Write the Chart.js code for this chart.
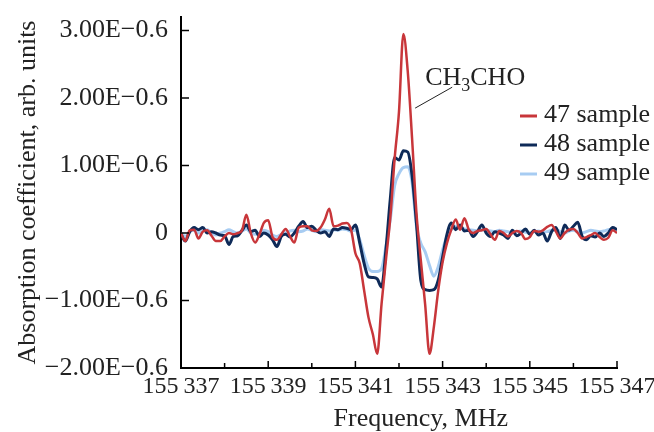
<!DOCTYPE html>
<html>
<head>
<meta charset="utf-8">
<script src="https://cdn.jsdelivr.net/npm/chart.js@4.4.1/dist/chart.umd.min.js"></script>
<style>
  html, body { margin: 0; padding: 0; background: #fff; }
  canvas { display: block; }
</style>
</head>
<body>
<canvas id="spectrumChart" width="654" height="432"></canvas>
<script>
// frequency grid, MHz
const frequency = [
  155337.0, 155337.1, 155337.2, 155337.3, 155337.4, 155337.5, 155337.6, 155337.7, 155337.8, 155337.9,
  155338.0, 155338.1, 155338.2, 155338.3, 155338.4, 155338.5, 155338.6, 155338.7, 155338.8, 155338.9,
  155339.0, 155339.1, 155339.2, 155339.3, 155339.4, 155339.5, 155339.6, 155339.7, 155339.8, 155339.9,
  155340.0, 155340.1, 155340.2, 155340.3, 155340.4, 155340.5, 155340.6, 155340.7, 155340.8, 155340.9,
  155341.0, 155341.1, 155341.2, 155341.3, 155341.4, 155341.5, 155341.6, 155341.7, 155341.8, 155341.9,
  155342.0, 155342.1, 155342.2, 155342.3, 155342.4, 155342.5, 155342.6, 155342.7, 155342.8, 155342.9,
  155343.0, 155343.1, 155343.2, 155343.3, 155343.4, 155343.5, 155343.6, 155343.7, 155343.8, 155343.9,
  155344.0, 155344.1, 155344.2, 155344.3, 155344.4, 155344.5, 155344.6, 155344.7, 155344.8, 155344.9,
  155345.0, 155345.1, 155345.2, 155345.3, 155345.4, 155345.5, 155345.6, 155345.7, 155345.8, 155345.9,
  155346.0, 155346.1, 155346.2, 155346.3, 155346.4, 155346.5, 155346.6, 155346.7, 155346.8, 155346.9,
  155347.0
];

// absorption, units of 1E-0.6
const sample47 = [
  0.0, -0.12, 0.04, 0.05, -0.08, 0.02, 0.04, -0.04, -0.12, -0.12,
  -0.05, 0.0, -0.02, 0.0, 0.04, 0.27, 0.0, -0.14, -0.02, 0.15,
  0.19, -0.06, -0.1, -0.02, 0.06, -0.05, -0.14, 0.08, 0.1, 0.1,
  0.04, 0.03, 0.08, 0.2, 0.36, 0.1, 0.11, 0.14, 0.15, 0.05,
  -0.3, -0.45, -0.85, -1.25, -1.5, -1.79, -1.05, -0.4, 0.22, 1.1,
  1.8, 2.95, 2.4, 1.4, 0.3, -0.4, -1.06, -1.79, -1.39, -0.85,
  -0.43, -0.15, 0.05, 0.2, 0.05, 0.22, 0.05, 0.0, 0.03, 0.04,
  0.06, -0.02, -0.1, 0.03, 0.0, -0.05, 0.0, 0.03, 0.0, -0.09,
  -0.06, 0.03, 0.02, 0.04, 0.09, 0.12, 0.02, -0.08, 0.0, 0.05,
  0.06, 0.0, -0.08, -0.06, -0.03, 0.0, -0.06, -0.1, -0.07, 0.04,
  0.0
];
const sample48 = [
  -0.02, -0.12, 0.02, 0.08, 0.05, 0.08, 0.0, 0.02, 0.0, -0.03,
  -0.04, -0.17, -0.05, -0.04, 0.04, 0.12, 0.02, 0.04, -0.05, 0.0,
  -0.03, -0.1, -0.2, -0.05, -0.02, -0.06, 0.0, 0.1, 0.17, 0.08,
  0.1, 0.04, 0.0, 0.02, -0.05, 0.06, 0.05, 0.08, 0.07, 0.05,
  0.12, -0.15, -0.45, -0.65, -0.66, -0.68, -0.8, -0.25, 0.5, 1.12,
  1.08, 1.22, 1.2, 0.85, 0.15, -0.7, -0.84, -0.85, -0.84, -0.7,
  -0.36, -0.02, 0.15, 0.05, 0.12, 0.03, 0.04, -0.05, 0.02, 0.12,
  0.0, -0.05, 0.02, 0.0, -0.03, -0.08, 0.04, -0.04, 0.0, 0.06,
  -0.02, 0.04, -0.03, 0.0, -0.12, 0.02, 0.08, -0.08, 0.12, 0.04,
  0.1, 0.16, -0.05, -0.1, -0.04, -0.06, 0.0, -0.05, 0.0, 0.08,
  0.05
];
const sample49 = [
  0.0, -0.05, 0.02, 0.04, 0.0, 0.03, 0.05, 0.0, -0.03, 0.0,
  0.02, 0.05, 0.02, 0.0, 0.03, 0.06, 0.0, -0.02, 0.0, 0.04,
  0.02, -0.03, -0.05, -0.02, 0.0, 0.03, 0.04, 0.02, 0.03, 0.06,
  0.04, 0.02, 0.05, 0.04, 0.03, 0.05, 0.04, 0.06, 0.05, 0.03,
  0.04, -0.1, -0.33, -0.52, -0.57, -0.57, -0.53, -0.2, 0.2, 0.7,
  0.88, 0.97, 0.98, 0.75, 0.1, -0.15, -0.28, -0.48, -0.64, -0.5,
  -0.25, -0.05, 0.05, 0.1, 0.08, 0.06, 0.05, 0.04, 0.03, 0.05,
  0.04, 0.03, 0.02, 0.04, 0.03, 0.02, 0.0, 0.02, 0.03, 0.01,
  0.0, 0.02, 0.03, 0.01, 0.02, 0.04, 0.05, 0.02, 0.0, 0.03,
  0.04, 0.02, 0.0, 0.02, 0.04, 0.03, 0.02, 0.03, 0.05, 0.06,
  0.04
];

const seriesNames = ["47 sample", "48 sample", "49 sample"];
const seriesColors = ["#c8363a", "#0e2a58", "#a7ccf2"];

const xTickValues = [155337, 155338, 155339, 155340, 155341, 155342, 155343, 155344, 155345, 155346, 155347];
const xTickLabels = ["155\u2009337", "", "155\u2009339", "", "155\u2009341", "", "155\u2009343", "", "155\u2009345", "", "155\u2009347"];
const yTickValues = [-2, -1, 0, 1, 2, 3];
const yTickLabels = ["\u22122.00E\u22120.6", "\u22121.00E\u22120.6", "0", "1.00E\u22120.6", "2.00E\u22120.6", "3.00E\u22120.6"];

// label for the peak: text anchor and leader line, in data units
const peakLabel = { freq: 155342.6, value: 2.2, lineFrom: [155342.37, 1.85], lineTo: [155343.22, 2.16] };

const FONT = "'Liberation Serif', 'Times New Roman', serif";
const TEXT = "#222";

function toPoints(values) {
  return values.map((v, i) => ({ x: frequency[i], y: v }));
}

const extras = {
  id: "extras",
  afterDraw(chart) {
    const { ctx, scales: { x, y }, chartArea } = chart;
    ctx.save();
    // inward tick marks
    ctx.strokeStyle = "#000";
    ctx.lineWidth = 1.5;
    x.ticks.forEach((t, i) => {
      const px = x.getPixelForValue(t.value);
      const len = xTickLabels[i] ? 7 : 5;
      ctx.beginPath();
      ctx.moveTo(px, chartArea.bottom);
      ctx.lineTo(px, chartArea.bottom - len);
      ctx.stroke();
    });
    yTickValues.forEach(v => {
      const py = y.getPixelForValue(v);
      ctx.beginPath();
      ctx.moveTo(chartArea.left, py);
      ctx.lineTo(chartArea.left + 8, py);
      ctx.stroke();
    });

    // x axis title
    ctx.fillStyle = TEXT;
    ctx.font = "26px " + FONT;
    ctx.textAlign = "center";
    ctx.textBaseline = "alphabetic";
    ctx.fillText("Frequency, MHz", x.getPixelForValue(155342.5), 426);

    // legend
    ctx.textAlign = "left";
    ctx.textBaseline = "middle";
    chart.data.datasets.forEach((ds, i) => {
      const ly = 116 + i * 29;
      ctx.strokeStyle = ds.borderColor;
      ctx.lineWidth = 3;
      ctx.beginPath();
      ctx.moveTo(520, ly);
      ctx.lineTo(537, ly);
      ctx.stroke();
      ctx.fillStyle = TEXT;
      ctx.font = "26px " + FONT;
      ctx.fillText(ds.label, 544, ly - 1);
    });

    // CH3CHO label with leader line
    ctx.strokeStyle = "#222";
    ctx.lineWidth = 1;
    ctx.beginPath();
    ctx.moveTo(x.getPixelForValue(peakLabel.lineFrom[0]), y.getPixelForValue(peakLabel.lineFrom[1]));
    ctx.lineTo(x.getPixelForValue(peakLabel.lineTo[0]), y.getPixelForValue(peakLabel.lineTo[1]));
    ctx.stroke();
    let tx = x.getPixelForValue(peakLabel.freq);
    const ty = y.getPixelForValue(peakLabel.value);
    ctx.textBaseline = "alphabetic";
    ctx.font = "26px " + FONT;
    ctx.fillText("CH", tx, ty);
    tx += ctx.measureText("CH").width;
    ctx.font = "18px " + FONT;
    ctx.fillText("3", tx, ty + 6);
    tx += ctx.measureText("3").width;
    ctx.font = "26px " + FONT;
    ctx.fillText("CHO", tx, ty);
    ctx.restore();
  }
};

new Chart(document.getElementById("spectrumChart").getContext("2d"), {
  type: "line",
  data: {
    datasets: seriesNames.map((name, i) => ({
      label: name,
      data: toPoints([sample47, sample48, sample49][i]),
      borderColor: seriesColors[i],
      borderWidth: i === 0 ? 2.5 : 3,
      pointRadius: 0,
      cubicInterpolationMode: "monotone",
      fill: false
    }))
  },
  options: {
    responsive: false,
    animation: false,
    devicePixelRatio: 1,
    layout: { padding: { top: 17, right: 37, bottom: 0, left: 0 } },
    plugins: { legend: { display: false }, tooltip: { enabled: false } },
    scales: {
      x: {
        type: "linear",
        min: 155337,
        max: 155347,
        afterBuildTicks: s => { s.ticks = xTickValues.map(v => ({ value: v })); },
        afterFit: s => { s.height = 64; s.paddingLeft = 0; s.paddingRight = 0; },
        grid: { display: false, drawTicks: false },
        border: { display: true, color: "#000", width: 2 },
        ticks: {
          autoSkip: false,
          maxRotation: 0,
          padding: 4,
          color: TEXT,
          font: { family: FONT, size: 24 },
          callback: v => xTickLabels[xTickValues.indexOf(v)]
        }
      },
      y: {
        min: -2,
        max: 3.2,
        afterBuildTicks: s => { s.ticks = yTickValues.map(v => ({ value: v })); },
        afterFit: s => { s.width = 181; s.paddingTop = 0; s.paddingBottom = 0; },
        grid: { display: false, drawTicks: false },
        border: { display: true, color: "#000", width: 2 },
        ticks: {
          padding: 13,
          color: TEXT,
          font: { family: FONT, size: 26 },
          callback: v => yTickLabels[yTickValues.indexOf(v)]
        },
        title: {
          display: true,
          text: "Absorption coefficient, arb. units",
          color: TEXT,
          font: { family: FONT, size: 26 },
          padding: { top: 13, bottom: 0 }
        }
      }
    }
  },
  plugins: [extras]
});
</script>
</body>
</html>
